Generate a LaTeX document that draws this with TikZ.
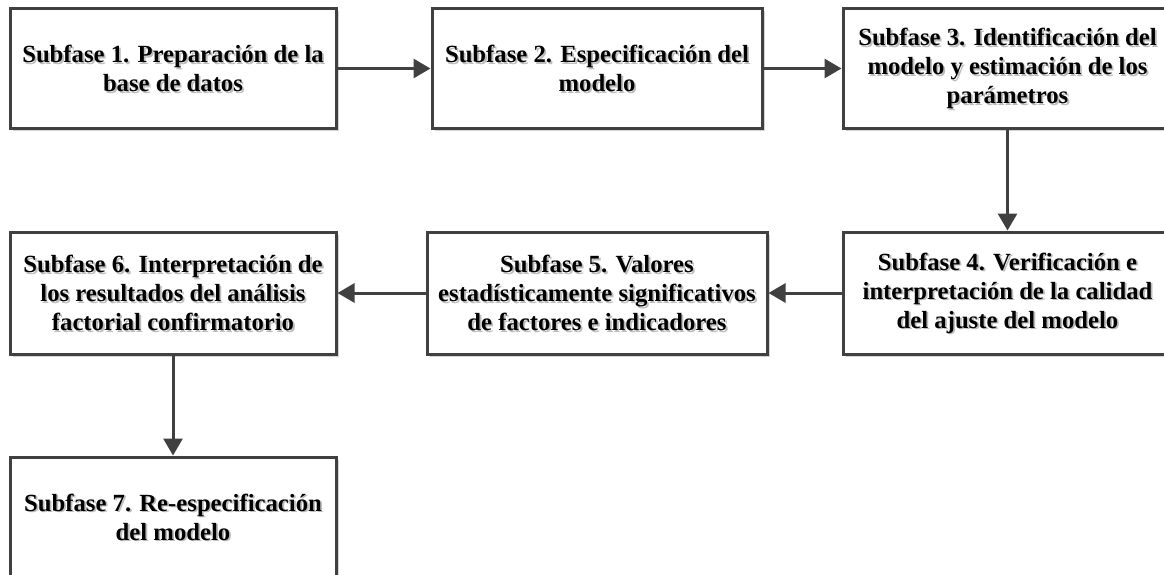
\documentclass[tikz,border=0pt]{standalone}
\usepackage{fontspec}
\setmainfont{Liberation Serif}
\usetikzlibrary{arrows.meta}
\definecolor{edge}{HTML}{404040}
\definecolor{shade}{HTML}{D4D4D4}
\definecolor{tshade}{HTML}{BDBDBD}
\tikzset{
  box/.style={draw=edge, line width=3pt, fill=white, inner sep=0pt, outer sep=1.5pt},
  boxshadow/.style={fill=shade, draw=none, inner sep=0pt},
  txt/.style={font=\fontsize{24.7}{29}\selectfont\bfseries, align=center, inner sep=0pt, text=black},
  txtshadow/.style={txt, text=tshade},
  flow/.style={draw=edge, line width=3pt, -{Triangle[length=17pt,width=19pt]}},
}
\newcommand{\stepbox}[6]{%
  \node[boxshadow, minimum width=#4pt, minimum height=#5pt] at (#2+3,#3+3) {};
  \node[box, minimum width=#4pt, minimum height=#5pt] (#1) at (#2,#3) {};
  \node[txtshadow] at ([shift={(1.8,1.8)}]#1.center) {#6};
  \node[txt] (#1t) at (#1.center) {#6};
}
\begin{document}
\begin{tikzpicture}[x=1pt,y=-1pt]
\useasboundingbox (0,0) rectangle (1164,575);
\clip (0,0) rectangle (1164,575);
\stepbox{b1}{173}{68.5}{326}{120}{Subfase 1. Preparación de la\\base de datos}
\stepbox{b2}{597}{68.5}{330}{120}{Subfase 2. Especificación del\\modelo}
\stepbox{b3}{1007.5}{68.5}{329}{120}{Subfase 3. Identificación del\\modelo y estimación de los\\parámetros}
\stepbox{b4}{1007.5}{293}{329}{122}{Subfase 4. Verificación e\\interpretación de la calidad\\del ajuste del modelo}
\stepbox{b5}{597}{293}{340}{122}{Subfase 5. Valores\\estadísticamente significativos\\de factores e indicadores}
\stepbox{b6}{173}{293}{326}{122}{Subfase 6. Interpretación de\\los resultados del análisis\\factorial confirmatorio}
\stepbox{b7}{173}{517}{326}{120}{Subfase 7. Re-especificación\\del modelo}
\draw[flow] (b1.east) -- (b2.west);
\draw[flow] (b2.east) -- (b3.west);
\draw[flow] (b3.south) -- (b4.north);
\draw[flow] (b4.west) -- (b5.east);
\draw[flow] (b5.west) -- (b6.east);
\draw[flow] (b6.south) -- (b7.north);
\end{tikzpicture}
\end{document}
